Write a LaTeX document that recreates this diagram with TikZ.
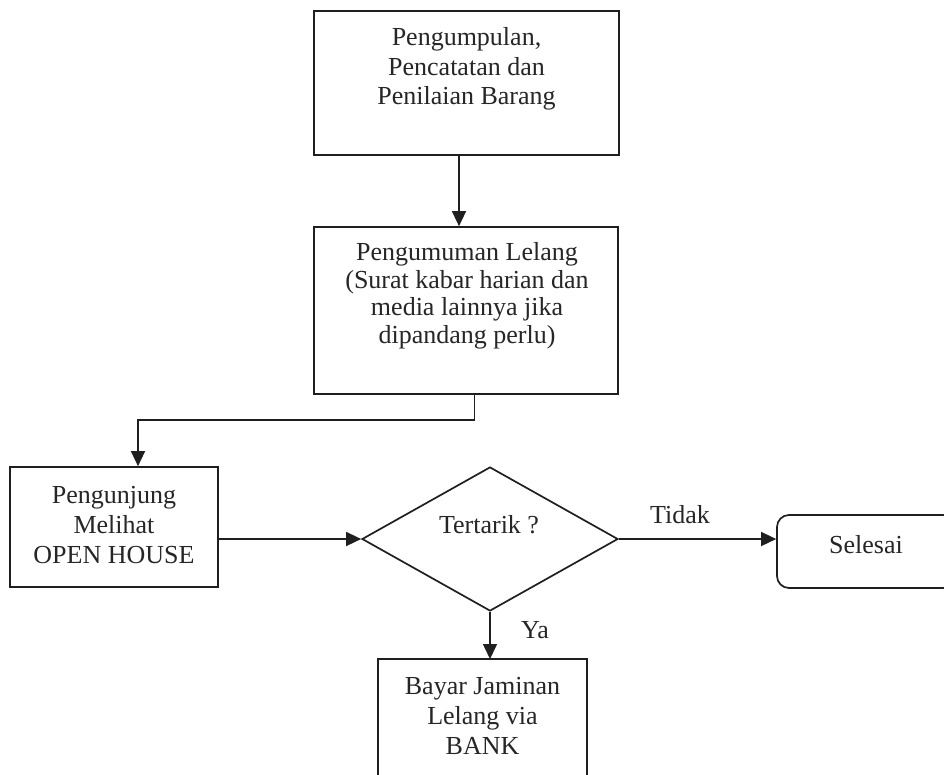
\documentclass[tikz,border=0pt]{standalone}
\usepackage{fontspec}
\setmainfont{Liberation Serif}
\usetikzlibrary{shapes.geometric,arrows.meta}
\tikzset{
  x=1pt,y=1pt,
  boxline/.style={draw=black!88, line width=1.7pt},
  procbox/.style={boxline, rectangle, inner sep=0pt},
  txt/.style={align=center, inner sep=0pt, font=\fontsize{26}{29.5}\selectfont, text=black!85},
  conn/.style={draw=black!88, line width=1.5pt, -{Triangle[length=15pt,width=14pt]}},
  plain/.style={draw=black!88, line width=1.5pt}
}
\begin{document}
\begin{tikzpicture}
\useasboundingbox (0,0) rectangle (944,-774);
\clip (0,0) rectangle (944,-774);
\fill[white] (0,0) rectangle (944,-774);
% boxes
\node[procbox, minimum width=305, minimum height=144] (b1) at (466.5,-83) {};
\node[txt] (t1) at (466.5,-69) {Pengumpulan,\\Pencatatan dan\\Penilaian Barang};
\node[procbox, minimum width=304, minimum height=167] (b2) at (466,-310.5) {};
\node[txt, font=\fontsize{26}{27.5}\selectfont] (t2) at (467,-296) {Pengumuman Lelang\\ (Surat kabar harian dan\\media lainnya jika\\dipandang perlu)};
\node[procbox, minimum width=208, minimum height=120] (b3) at (114,-527) {};
\node[txt, font=\fontsize{26}{30}\selectfont] (t3) at (114,-525) {Pengunjung\\Melihat\\OPEN HOUSE};
\node[boxline, diamond, inner sep=0pt, minimum width=256, minimum height=144] (d) at (490,-539) {};
\node[txt] (td) at (489,-525) {Tertarik ?};
\node[boxline, rectangle, rounded corners=12pt, minimum width=178, minimum height=73] (s) at (866,-551.5) {};
\node[txt] (ts) at (866,-545) {Selesai};
% bottom open box
\coordinate (b4tl) at (378,-659);
\coordinate (b4tr) at (587,-659);
\draw[boxline] (378,-800) -- (b4tl) -- (b4tr) -- (587,-800);
\node[txt, font=\fontsize{26}{30}\selectfont] (t4) at (482.5,-716) {Bayar Jaminan\\Lelang via\\BANK};
\coordinate (b4top) at (490,-659);
% connectors
\draw[conn] ([xshift=-7.5]b1.south) -- ([xshift=-7]b2.north);
\draw[conn] ([xshift=8.5]b2.south) -- ++(0,-25) -| ([xshift=24]b3.north);
\draw[conn] (b3.east |- d.west) -- (d.west);
\draw[conn] (d.east) -- (s.west |- d.east);
\draw[conn] (d.south) -- (b4top);
% labels
\node[txt] (lt) at (680,-515) {Tidak};
\node[txt] (ly) at (535,-630) {Ya};
\end{tikzpicture}
\end{document}
